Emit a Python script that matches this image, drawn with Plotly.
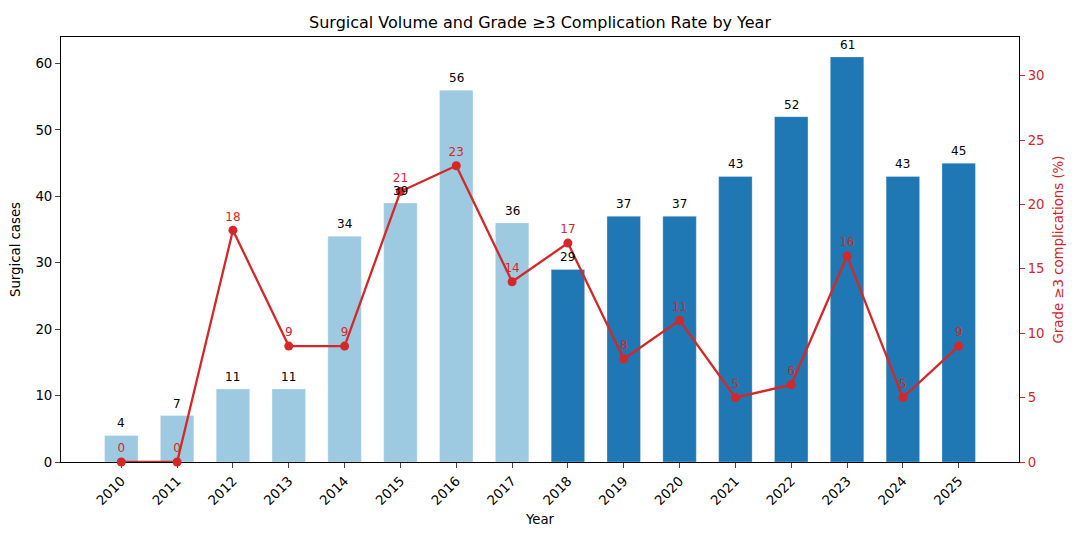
import plotly.graph_objects as go

years = ["2010", "2011", "2012", "2013", "2014", "2015", "2016", "2017",
         "2018", "2019", "2020", "2021", "2022", "2023", "2024", "2025"]
cases = [4, 7, 11, 11, 34, 39, 56, 36, 29, 37, 37, 43, 52, 61, 43, 45]
rates = [0, 0, 18, 9, 9, 21, 23, 14, 17, 8, 11, 5, 6, 16, 5, 9]
early_color = "#9ecae1"
late_color = "#1f77b4"
red = "#d62728"
bar_colors = [early_color if int(y) < 2018 else late_color for y in years]

fig = go.Figure()
fig.add_trace(go.Bar(
    x=list(range(len(years))), y=cases, width=0.6,
    marker=dict(color=bar_colors, line=dict(width=0.6, color="rgba(255,255,255,0.5)")),
    showlegend=False,
))
fig.add_trace(go.Scatter(
    x=list(range(len(years))), y=rates, yaxis="y2",
    mode="lines+markers+text",
    line=dict(color=red, width=2.3),
    marker=dict(color=red, size=9),
    text=[str(r) for r in rates], textposition="top center",
    textfont=dict(color=red, size=12, family="DejaVu Sans"),
    showlegend=False, cliponaxis=False,
))

for i, c in enumerate(cases):
    fig.add_annotation(x=i, y=c, text=str(c), showarrow=False,
                       yanchor="bottom", yshift=3,
                       font=dict(size=12, color="black", family="DejaVu Sans"))

fig.update_layout(
    width=1064, height=524,
    margin=dict(l=53, r=53, t=29, b=70, autoexpand=False),
    plot_bgcolor="white", paper_bgcolor="white",
    font=dict(family="DejaVu Sans", size=13, color="black"),
    title=dict(text="Surgical Volume and Grade ≥3 Complication Rate by Year",
               x=0.5, xanchor="center", y=0.973, yanchor="middle",
               font=dict(size=16)),
    xaxis=dict(showline=True, linecolor="black", linewidth=1, layer="below traces",
               ticks="outside", ticklen=5, showgrid=False, zeroline=False,
               automargin=False, mirror=True, range=[-1.08, 16.08],
               tickmode="array", tickvals=list(range(len(years))), ticktext=years,
               tickangle=-45, tickfont=dict(size=13.3),
               title=dict(text="Year", standoff=7, font=dict(size=13.3))),
    yaxis=dict(showline=True, linecolor="black", linewidth=1, layer="below traces",
               ticks="outside", ticklen=5, showgrid=False, zeroline=False,
               automargin=False, range=[0, 64], tickvals=[0, 10, 20, 30, 40, 50, 60],
               tickfont=dict(size=13.3),
               title=dict(text="Surgical cases", standoff=11, font=dict(size=13.3))),
    yaxis2=dict(showline=True, linecolor="black", linewidth=1, layer="below traces",
                ticks="outside", ticklen=5, showgrid=False, zeroline=False,
                automargin=False, overlaying="y", side="right", range=[0, 33],
                tickvals=[0, 5, 10, 15, 20, 25, 30],
                tickcolor=red, tickfont=dict(color=red, size=13.3),
                title=dict(text="Grade ≥3 complications (%)",
                           font=dict(color=red, size=13.3), standoff=10)),
)

fig.write_html("out.html")
